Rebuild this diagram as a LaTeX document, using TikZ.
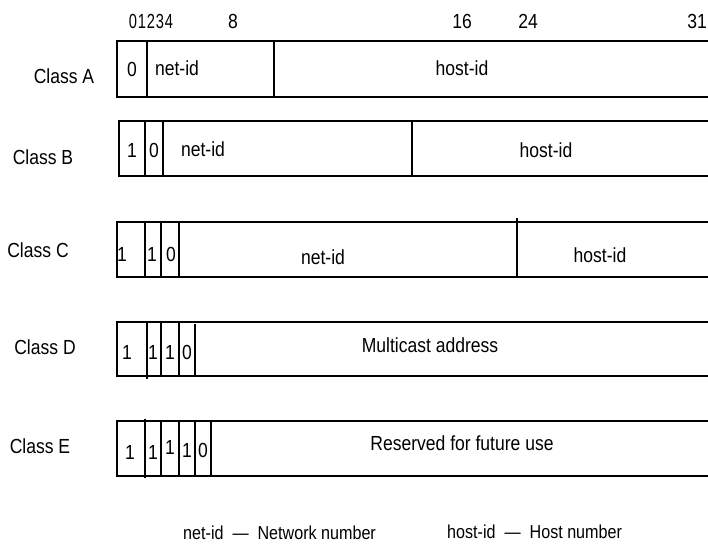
\documentclass[tikz,border=0pt]{standalone}
\usepackage{fontspec}
\setmainfont{Liberation Sans}[FakeStretch=0.86]
\newfontfamily\bitfont{Liberation Sans}[FakeStretch=0.72]
\begin{document}
\begin{tikzpicture}[x=0.03cm,y=-0.03cm]
    \tikzset{
      field/.style={line width=1.1pt},
      txt/.style={inner sep=0pt,font=\fontsize{17.4}{19}\selectfont},
      bit/.style={inner sep=0pt,font=\fontsize{17.4}{19}\bitfont},
      legend/.style={inner sep=0pt,anchor=west,font=\fontsize{16}{18}\selectfont},
    }
    \useasboundingbox (0,0) rectangle (708,545);

    % Posizioni dei bit
    \node[bit] (b0) at (133,21) {0};
    \node[bit] (b1) at (142,21) {1};
    \node[bit] (b2) at (151,21) {2};
    \node[bit] (b3) at (160,21) {3};
    \node[bit] (b4) at (169,21) {4};
    \node[txt] (b8) at (233,21) {8};
    \node[txt] (b16) at (462,21) {16};
    \node[txt] (b24) at (528,21) {24};
    \node[txt] (b31) at (697,21) {31};

    % Classe A
    \node[txt] (ca) at (64,76) {Class A};
    \draw[field] (708,41) -- (117,41) -- (117,97) -- (708,97);
    \draw[field] (147,41) -- (147,97);
    \draw[field] (274,41) -- (274,97);
    \node[txt] (a0) at (132,69) {0};
    \node[txt] (anet) at (177,68) {net-id};
    \node[txt] (ahost) at (462,68) {host-id};

    % Classe B
    \node[txt] (cb) at (43,157) {Class B};
    \draw[field] (708,121) -- (119,121) -- (119,176) -- (708,176);
    \draw[field] (145,121) -- (145,176);
    \draw[field] (163,121) -- (163,176);
    \draw[field] (412,121) -- (412,176);
    \node[txt] (b1a) at (132,150) {1};
    \node[txt] (b1b) at (154,150) {0};
    \node[txt] (bnet) at (203,149) {net-id};
    \node[txt] (bhost) at (546,150) {host-id};

    % Classe C
    \node[txt] (cc) at (38,250) {Class C};
    \draw[field] (708,222) -- (117,222) -- (117,277) -- (708,277);
    \draw[field] (145,222) -- (145,278);
    \draw[field] (161,222) -- (161,278);
    \draw[field] (179,222) -- (179,278);
    \draw[field] (517,218) -- (517,277);
    \node[txt] (c1a) at (122,254) {1};
    \node[txt] (c1b) at (152,254) {1};
    \node[txt] (c1c) at (171,254) {0};
    \node[txt] (cnet) at (323,257) {net-id};
    \node[txt] (chost) at (600,255) {host-id};

    % Classe D
    \node[txt] (cd) at (45,347) {Class D};
    \draw[field] (708,322) -- (117,322) -- (117,376) -- (708,376);
    \draw[field] (147,322) -- (147,379);
    \draw[field] (161,322) -- (161,376);
    \draw[field] (179,322) -- (179,376);
    \draw[field] (195,324) -- (195,376);
    \node[txt] (d1a) at (127,352) {1};
    \node[txt] (d1b) at (153,352) {1};
    \node[txt] (d1c) at (170,352) {1};
    \node[txt] (d1d) at (187,352) {0};
    \node[txt] (dmc) at (430,345) {Multicast address};

    % Classe E
    \node[txt] (ce) at (40,446) {Class E};
    \draw[field] (708,421) -- (117,421) -- (117,476) -- (708,476);
    \draw[field] (145,419) -- (145,478);
    \draw[field] (161,421) -- (161,476);
    \draw[field] (179,421) -- (179,476);
    \draw[field] (195,421) -- (195,476);
    \draw[field] (211,421) -- (211,476);
    \node[txt] (e1a) at (130,452) {1};
    \node[txt] (e1b) at (153,452) {1};
    \node[txt] (e1c) at (170,447) {1};
    \node[txt] (e1d) at (187,450) {1};
    \node[txt] (e1e) at (203,450) {0};
    \node[txt] (eres) at (462,443) {Reserved for future use};

    % Legenda
    \node[legend] (lnet) at (183,533) {net-id\ \ —\ \ Network number};
    \node[legend] (lhost) at (447,532) {host-id\ \ —\ \ Host number};
\end{tikzpicture}
\end{document}
